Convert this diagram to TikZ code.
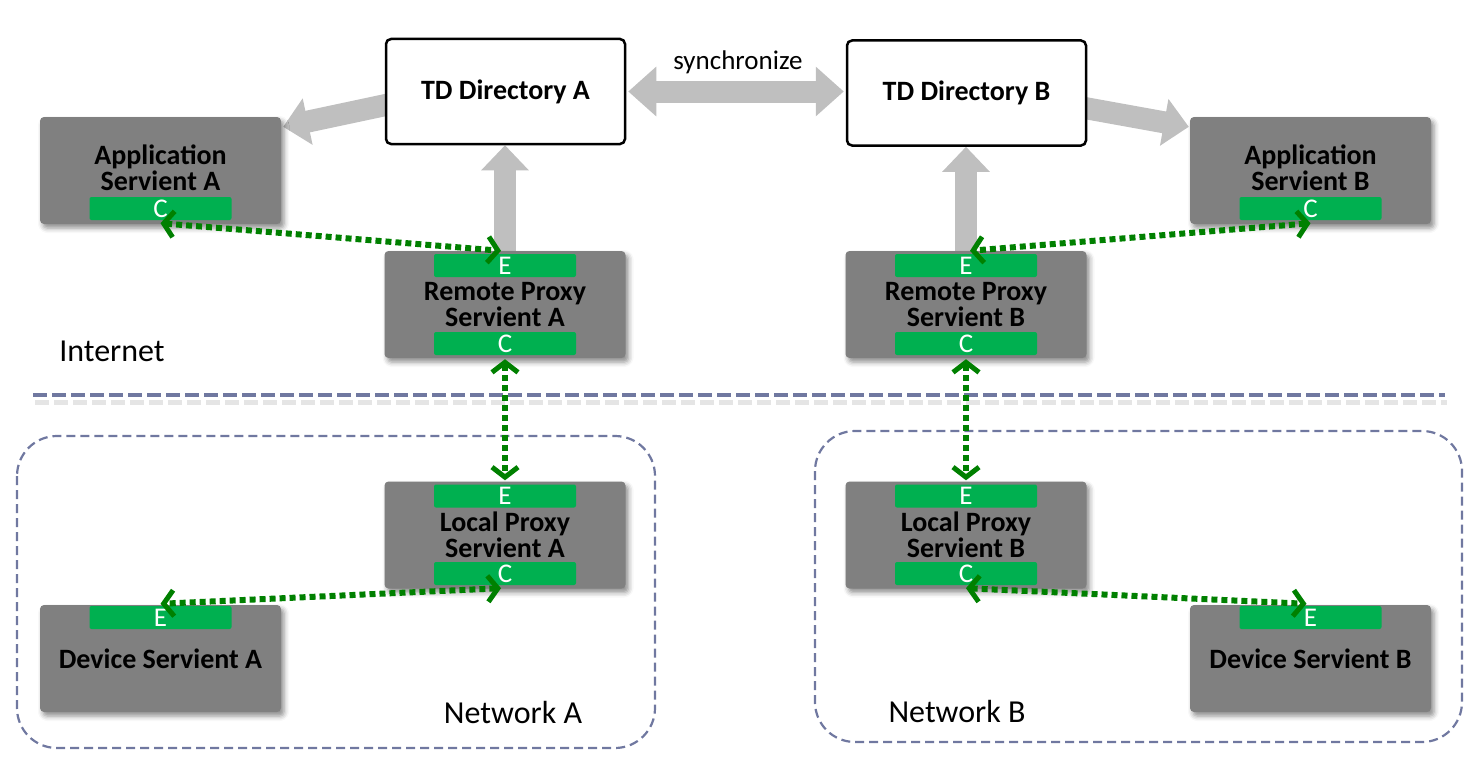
\documentclass[tikz,border=0pt]{standalone}
\usepackage{fontspec}
\setmainfont{Carlito}
\usetikzlibrary{arrows.meta,calc,shadows.blur}
\definecolor{boxgray}{RGB}{128,128,128}
\definecolor{bargreen}{RGB}{0,176,80}
\definecolor{arrgreen}{RGB}{0,128,0}
\definecolor{fatgray}{RGB}{191,191,191}
\definecolor{netblue}{RGB}{112,120,160}
\pgfdeclarelayer{bg}
\pgfsetlayers{bg,main}
\begin{document}
\begin{tikzpicture}[x=1pt,y=-1pt,
  servtext/.style={inner sep=0pt, align=center, font=\fontsize{28}{26}\selectfont\bfseries},
  servbox/.style={servtext, fill=boxgray, rounded corners=4pt, minimum width=241pt, minimum height=107pt,
    blur shadow={shadow xshift=3pt, shadow yshift=-4pt, shadow blur radius=5pt, shadow opacity=45}},
  dirbox/.style={draw=black, line width=2.5pt, fill=white, rounded corners=5pt, minimum width=239pt,
    minimum height=105pt, inner sep=0pt, font=\fontsize{28}{26}\selectfont\bfseries},
  bar/.style={fill=bargreen, rounded corners=2pt, minimum width=142pt, minimum height=23pt,
    inner sep=0pt, text=white, font=\fontsize{27}{27}\selectfont},
  fat/.style={draw=fatgray, line width=22pt, -{Triangle[length=25pt,width=46pt]}},
  fatboth/.style={draw=fatgray, line width=22pt, {Triangle[length=28pt,width=48pt]}-{Triangle[length=28pt,width=48pt]}},
  link/.style={draw=arrgreen, line width=6pt, dash pattern=on 6pt off 4pt,
    {Straight Barb[length=10pt,width=26pt,line width=5pt]}-{Straight Barb[length=10pt,width=26pt,line width=5pt]}},
  plain/.style={font=\fontsize{32}{32}\selectfont, inner sep=0pt},
  netbox/.style={draw=netblue, line width=2.2pt, dash pattern=on 9pt off 5pt, rounded corners=40pt}
]
\useasboundingbox (0,0) rectangle (1482,768);

% directories
\node[dirbox] (tdA) at (505.5,91.5) {TD Directory A};
\node[dirbox] (tdB) at (966.5,93) {TD Directory B};

% servients
\node[servbox] (appA) at (160.5,170.5) {};
\node[servtext] (appAt) at ($(appA.center)+(0,-3)$) {Application\\Servient A};
\node[servbox] (appB) at (1310.5,170.5) {};
\node[servtext] (appBt) at ($(appB.center)+(0,-3)$) {Application\\Servient B};
\node[servbox] (remA) at (505,304.5) {Remote Proxy\\Servient A};
\node[servbox] (remB) at (966,304.5) {Remote Proxy\\Servient B};
\node[servbox] (locA) at (505,535) {Local Proxy\\Servient A};
\node[servbox] (locB) at (966,535) {Local Proxy\\Servient B};
\node[servbox] (devA) at (160.5,658.5) {Device Servient A};
\node[servbox] (devB) at (1310.5,658.5) {Device Servient B};

% green interface bars
\node[bar] (appAc) at (160.5,208.5) {C};
\node[bar] (appBc) at (1310.5,208.5) {C};
\node[bar] (remAe) at (505,265.5) {E};
\node[bar] (remAc) at (505,343.5) {C};
\node[bar] (remBe) at (966,265.5) {E};
\node[bar] (remBc) at (966,343.5) {C};
\node[bar] (locAe) at (505,496) {E};
\node[bar] (locAc) at (505,573.5) {C};
\node[bar] (locBe) at (966,496) {E};
\node[bar] (locBc) at (966,573.5) {C};
\node[bar] (devAe) at (160.5,617.5) {E};
\node[bar] (devBe) at (1310.5,617.5) {E};

% labels
\node[font=\fontsize{27}{27}\selectfont, inner sep=0pt] (sync) at (738,62) {synchronize};
\node[plain] (inet) at (112,351) {Internet};
\node[plain] (netA) at (513,712) {Network A};
\node[plain] (netB) at (957,711) {Network B};

\begin{pgfonlayer}{bg}
  % separator and network regions
  \draw[line width=5pt, black!10, dash pattern=on 14pt off 5pt] (35,402) -- (1447,402);
  \draw[line width=3.5pt, netblue, dash pattern=on 14pt off 5pt] (33,395) -- (1445,395);
  \draw[netbox] (17,436) rectangle (655,748);
  \draw[netbox] (815,431) rectangle (1462,742);
  % fat grey arrows
  \draw[fat] ($(tdA.west)+(8,12)$) -- ($(appA.north east)+(2,10)$);
  \draw[fat] ($(tdB.east)+(-8,14)$) -- ($(appB.north west)+(-1,10)$);
  \draw[fat] (remA.north) -- (remA.north |- tdA.south);
  \draw[fat] (remB.north) -- (remB.north |- tdB.south);
  \draw[fatboth] ($(tdA.east)+(2,0)$) -- ($(tdA.east -| tdB.west)+(-2,0)$);
\end{pgfonlayer}

% green links
\draw[link] ($(appAc.south)+(0,3)$) -- ($(remAe.north)+(-4,-3)$);
\draw[link] ($(appBc.south)+(0,3)$) -- ($(remBe.north)+(4,-3)$);
\draw[link] ($(remAc.south)+(0,4)$) -- ($(locAe.north)+(0,-4)$);
\draw[link] ($(remBc.south)+(0,4)$) -- ($(locBe.north)+(0,-4)$);
\draw[link] ($(locAc.south)+(-4,3)$) -- ($(devAe.north)+(0,-2)$);
\draw[link] ($(locBc.south)+(0,3)$) -- ($(devBe.north)+(-4,-2)$);
\end{tikzpicture}
\end{document}
